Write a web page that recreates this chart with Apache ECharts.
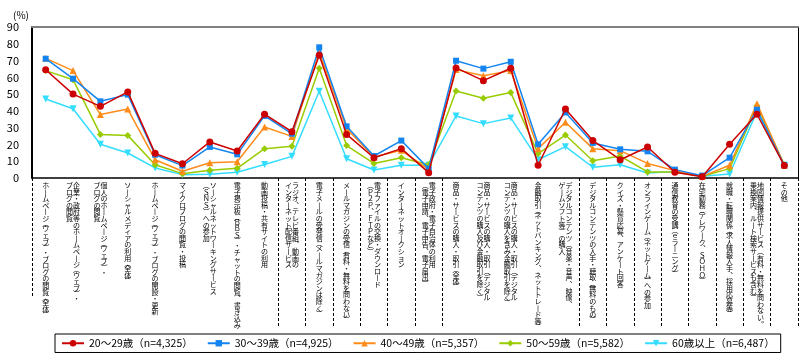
<!DOCTYPE html>
<html><head><meta charset="utf-8">
<script src="https://cdn.jsdelivr.net/npm/echarts@6/dist/echarts.min.js"></script>
<style>html,body{margin:0;padding:0;background:#fff}#c{width:805px;height:364px}</style>
</head><body><div id="c"></div>
<script>
const categories = [
'ホームページ(ウェブ)・ブログの閲覧(全体)',
'企業・政府等のホームページ(ウェブ)・\nブログの閲覧',
'個人のホームページ(ウェブ)・\nブログの閲覧',
'ソーシャルメディアの利用(全体)',
'ホームページ(ウェブ)・ブログの開設・更新',
'マイクロブログの閲覧・投稿',
'ソーシャルネットワーキングサービス\n(SNS)への参加',
'電子掲示板(BBS)・チャットの閲覧、書き込み',
'動画投稿・共有サイトの利用',
'ラジオ、テレビ番組、動画の\nインターネット配信サービス',
'電子メールの受発信(メールマガジンは除く)',
'メールマガジンの受信(有料・無料を問わない)',
'電子ファイルの交換・ダウンロード\n(P2P、FTPなど)',
'インターネットオークション',
'電子政府・電子自治体の利用\n(電子申請、電子申告、電子届出)',
'商品・サービスの購入・取引(全体)',
'商品・サービスの購入・取引(デジタル\nコンテンツの購入及び金融取引を除く)',
'商品・サービスの購入・取引(デジタル\nコンテンツの購入を含み金融取引を除く)',
'金融取引(ネットバンキング、ネットトレード等)',
'デジタルコンテンツ(音楽・音声、映像、\nゲームソフト等)の購入',
'デジタルコンテンツの入手・聴取(無料のもの)',
'クイズ・懸賞応募、アンケート回答',
'オンラインゲーム(ネットゲーム)への参加',
'通信教育の受講(eラーニング)',
'在宅勤務(テレワーク、SOHO)',
'就職・転職関係(求人情報入手、採用応募等)',
'地図情報提供サービス(有料・無料を問わない。\n乗換案内、ルート検索サービスも含む)',
'その他'
];
const seriesNames = ['20～29歳（n=4,325）','30～39歳（n=4,925）','40～49歳（n=5,357）','50～59歳（n=5,582）','60歳以上（n=6,487）'];
const s20 = [64.5,50,42.7,51.3,14.7,8.5,21.5,16.1,38,27.6,73.1,26,12.1,17.5,3.2,65.6,58,65.4,7.6,41.1,22.3,10.9,18.5,3.4,0.8,20.1,38,7.4];
const s30 = [71.1,59.2,45.7,49.7,13.9,7.4,18.5,14.1,37,26.4,77.9,30.8,13.1,22.3,5.6,69.9,65.2,69.3,20.1,39.1,20.9,17.1,15.9,5,1.4,12.1,40.7,7.6];
const s40 = [71.3,64,37.8,41.1,10.9,4,9.1,9.7,30.4,24.8,75.3,29.4,12.5,16.5,5,64.6,61,64,17.5,33.2,17.5,16.3,8.7,4.4,1,7.6,44.3,7.6];
const s50 = [64,58.6,26,25.4,7.9,2.6,4.6,5.8,17.5,18.9,65.4,19.3,8.7,12.1,7.9,51.9,47.5,50.9,14.5,25.6,10.3,13.1,3.6,3.6,1,5.6,43.1,7.9];
const s60 = [47.1,41.3,20.1,14.9,6,2,2.2,3.4,8.1,12.9,51.7,11.5,4.8,7.6,7.6,37,32.4,35.8,10.9,18.7,6.4,7.9,3,3.8,1,2.4,39.7,7.6];
const yTicks = [0,10,20,30,40,50,60,70,80,90];
const separatorsLong = [9,10,11,12,13,14,15,20,21,22,23,24,25,26,27];
const separatorsShort = [3];

const colors = ['#CC0000','#1485F0','#FF8C1A','#99CC00','#33DDFF'];
const symbols = ['circle','rect','triangle','diamond','triangle'];
const rotates = [0,0,0,0,180];
const values = [s20,s30,s40,s50,s60];

const SMALL = new Set(['︵','︶']);
function conv(ch){
  if (ch==='(') return '︵';
  if (ch===')') return '︶';
  if (ch==='ー') return '丨';
  if (ch==='、') return '︑';
  if (ch==='。') return '︒';
  const c = ch.charCodeAt(0);
  if (c>=0x21 && c<=0x7e) return String.fromCharCode(c+0xFEE0);
  return ch;
}
function vert(label){
  const cols = label.split('\n').map(s=>Array.from(s).map(conv));
  const n = Math.max(...cols.map(c=>c.length));
  const lines = [];
  for (let i=0;i<n;i++){
    const chars = cols.length===2 ? [cols[1][i]||'　', cols[0][i]||'　'] : [cols[0][i]];
    const small = chars.every(ch=>ch==='　'||SMALL.has(ch));
    const st = small ? 'p' : 'c';
    lines.push('{'+st+'|'+chars.join('')+'}');
  }
  return lines.join('\n');
}

const FONT = '"Noto Sans CJK JP", sans-serif';
const chart = echarts.init(document.getElementById('c'), null, {renderer:'canvas'});
chart.setOption({
  animation:false,
  textStyle:{fontFamily:FONT},
  title:{text:'(%)', left:8, top:5, textStyle:{fontSize:10, fontWeight:'normal', color:'#000', fontFamily:FONT}},
  grid:{left:32, right:7, top:27, bottom:186, outerBoundsMode:'none'},
  legend:{
    left:55, top:334, orient:'horizontal',
    borderColor:'#000', borderWidth:1, padding:[4,6,4,6],
    itemWidth:22, itemHeight:8, itemGap:14,
    textStyle:{fontSize:10.5, color:'#000', fontFamily:FONT, width:104},
    data:seriesNames
  },
  xAxis:[{
    type:'category', data:categories, boundaryGap:true, position:'bottom',
    axisLine:{lineStyle:{color:'#000', width:1.5}},
    axisTick:{show:true, length:148, interval:(i)=>separatorsLong.includes(i), lineStyle:{color:'#000', type:[3,2], width:1}},
    axisLabel:{interval:0, margin:4, formatter:vert, color:'#000', fontSize:7, lineHeight:3, fontFamily:FONT,
      rich:{c:{fontSize:7, lineHeight:6.6, fontFamily:FONT, color:'#000'},
            p:{fontSize:7, lineHeight:3.8, fontFamily:FONT, color:'#000'}}}
  },{
    type:'category', data:categories, boundaryGap:true, position:'bottom', gridIndex:0,
    axisLine:{show:false},
    axisTick:{show:true, length:118, interval:(i)=>separatorsShort.includes(i), lineStyle:{color:'#000', type:[3,2], width:1}},
    axisLabel:{show:false}
  },{
    type:'category', data:categories, boundaryGap:true, position:'top', gridIndex:0,
    axisLine:{show:true, lineStyle:{color:'#808080', width:2}},
    axisTick:{show:false}, axisLabel:{show:false}
  }],
  yAxis:[{
    type:'value', min:0, max:90, interval:10,
    axisLine:{show:true, lineStyle:{color:'#000', width:2}},
    axisTick:{show:false}, splitLine:{show:false},
    axisLabel:{fontSize:11, color:'#000', margin:13, fontFamily:FONT,
      formatter:(v)=>yTicks.includes(v)?String(v):''}
  },{
    type:'value', min:0, max:90, interval:10, position:'right',
    axisLine:{show:true, lineStyle:{color:'#000', width:1}},
    axisTick:{show:false}, splitLine:{show:false}, axisLabel:{show:false}
  }],
  series: values.map((d,k)=>({
    name:seriesNames[k], type:'line', data:d, xAxisIndex:0, yAxisIndex:0,
    symbol:symbols[k], symbolSize: k===1?6:7, symbolRotate:rotates[k],
    color:colors[k], lineStyle:{width:1.5, color:colors[k]},
    itemStyle:{color:colors[k]}, z:10-k
  }))
});
</script></body></html>
